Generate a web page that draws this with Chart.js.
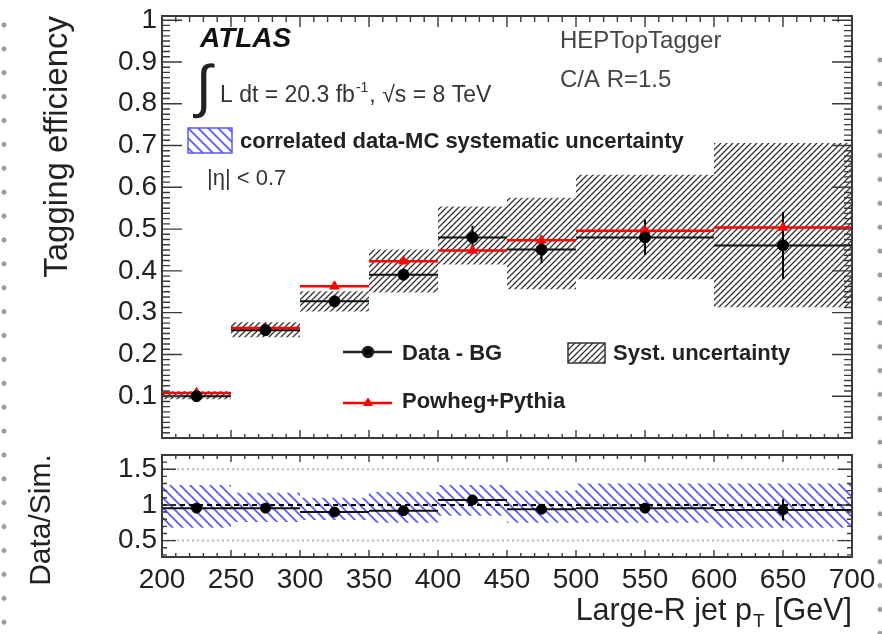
<!DOCTYPE html>
<html>
<head>
<meta charset="UTF-8">
<title>HEPTopTagger tagging efficiency</title>
<script src="https://cdn.jsdelivr.net/npm/chart.js@4.4.1/dist/chart.umd.min.js"></script>
<style>
  body { margin: 0; background: #fff; }
  #wrap { position: relative; width: 882px; height: 634px; overflow: hidden; }
  #top { position: absolute; left: 0; top: 0; }
  #bot { position: absolute; left: 0; top: 445px; }
  .dots { position: absolute; width: 10px; bottom: 0;
    background-image: radial-gradient(circle, #9c9c9c 2.2px, rgba(255,255,255,0) 2.9px);
    background-size: 10px 23.9px; }
</style>
</head>
<body>
<div id="wrap">
  <div class="dots" style="left:-1px; top:13px"></div>
  <div class="dots" style="left:875px; top:48px"></div>
  <canvas id="top" width="882" height="445"></canvas>
  <canvas id="bot" width="882" height="189"></canvas>
</div>

<script>
	// large-R jet pT bins [GeV]
	const binEdges = [200, 250, 300, 350, 400, 450, 500, 600, 700];

	// data - BG efficiency, stat. error, syst. band
	const dataEff  = [0.100, 0.258, 0.327, 0.391, 0.480, 0.451, 0.480, 0.461];
	const dataStat = [0.004, 0.006, 0.010, 0.014, 0.028, 0.033, 0.042, 0.080];
	const systLow  = [0.093, 0.241, 0.303, 0.348, 0.415, 0.356, 0.380, 0.313];
	const systHigh = [0.112, 0.277, 0.351, 0.451, 0.554, 0.575, 0.630, 0.706];

	// Powheg+Pythia
	const mcEff    = [0.108, 0.263, 0.363, 0.423, 0.449, 0.473, 0.496, 0.504];

	// Data/Sim. ratio and correlated data-MC syst.
	const ratio    = [0.955, 0.955, 0.900, 0.920, 1.070, 0.940, 0.955, 0.930];
	const ratioErr = [0.010, 0.015, 0.020, 0.030, 0.040, 0.050, 0.060, 0.150];
	const corrLow  = [0.68, 0.76, 0.79, 0.75, 0.85, 0.75, 0.75, 0.68];
	const corrHigh = [1.28, 1.17, 1.10, 1.18, 1.28, 1.20, 1.30, 1.30];

	const effTicks   = [0.1, 0.2, 0.3, 0.4, 0.5, 0.6, 0.7, 0.8, 0.9, 1];
	const ratioTicks = [0.5, 1, 1.5];
	const ratioGuides = [0.5, 1.5];
	const ptTicks    = [200, 250, 300, 350, 400, 450, 500, 550, 600, 650, 700];

	const FONT = "'Liberation Sans', Arial, Helvetica, sans-serif";
	const INK = '#1c1c1c';

	const centers = binEdges.slice(0, -1).map((e, i) => (e + binEdges[i + 1]) / 2);

	// one horizontal segment per bin, gaps between bins
	function binLines(vals) {
		const pts = [];
		vals.forEach((v, i) => {
			pts.push({x: binEdges[i], y: v}, {x: binEdges[i + 1], y: v}, {x: binEdges[i + 1], y: null});
		});
		return pts;
	}
	// stepped outline of a band (stepped: true keeps each y until the next edge)
	function stepEdge(vals) {
		return binEdges.map((e, i) => ({x: e, y: vals[Math.min(i, vals.length - 1)]}));
	}
	function errBars(vals, errs) {
		const pts = [];
		vals.forEach((v, i) => {
			pts.push({x: centers[i], y: v - errs[i]}, {x: centers[i], y: v + errs[i]}, {x: centers[i], y: null});
		});
		return pts;
	}
	function markers(vals) {
		return vals.map((v, i) => ({x: centers[i], y: v}));
	}
	function flat(v) {
		return [{x: binEdges[0], y: v}, {x: binEdges[binEdges.length - 1], y: v}];
	}

	// diagonal hatching, dir 1 = '/', dir -1 = '\'
	function hatch(color, step, width, dir) {
		const c = document.createElement('canvas');
		c.width = c.height = step;
		const g = c.getContext('2d');
		g.strokeStyle = color;
		g.lineWidth = width;
		g.beginPath();
		for (let k = -1; k <= 1; k++) {
			if (dir > 0) { g.moveTo(k * step - 1, step + 1); g.lineTo(k * step + step + 1, -1); }
			else { g.moveTo(k * step - 1, -1); g.lineTo(k * step + step + 1, step + 1); }
		}
		g.stroke();
		return g.createPattern(c, 'repeat');
	}
	const hatchBlack = hatch('#333', 6, 1.3, 1);
	const hatchBlue = hatch('#5a5aff', 10, 1.8, -1);

	// no extra room for the end labels, the frame is placed by layout padding
	function noLabelPadding(s) {
		s.paddingTop = 0; s.paddingBottom = 0; s.paddingLeft = 0; s.paddingRight = 0;
	}

	// frame with ROOT style inner ticks
	const framePlugin = {
		id: 'frame',
		afterDatasetsDraw(chart, args, o) {
			const {ctx, chartArea: a, scales: {x, y}} = chart;
			ctx.save();
			ctx.strokeStyle = '#3a3a3a';
			ctx.lineWidth = 1.4;
			ctx.beginPath();
			const nx = Math.round((x.max - x.min) / o.xStep);
			for (let k = 0; k <= nx; k++) {
				const v = x.min + k * o.xStep;
				const px = x.getPixelForValue(v);
				const major = k % o.xEvery === 0;
				ctx.moveTo(px, a.top); ctx.lineTo(px, a.top + o.topLen[major ? 1 : 0]);
				ctx.moveTo(px, a.bottom); ctx.lineTo(px, a.bottom - o.botLen[major ? 1 : 0]);
			}
			const k0 = Math.ceil(y.min / o.yStep - 1e-6), k1 = Math.floor(y.max / o.yStep + 1e-6);
			for (let k = k0; k <= k1; k++) {
				const py = y.getPixelForValue(k * o.yStep);
				const len = o.sideLen[k % o.yEvery === 0 ? 1 : 0];
				ctx.moveTo(a.left, py); ctx.lineTo(a.left + len, py);
				ctx.moveTo(a.right, py); ctx.lineTo(a.right - len, py);
			}
			ctx.stroke();
			ctx.lineWidth = 2;
			ctx.strokeRect(a.left, a.top, a.right - a.left, a.bottom - a.top);
			ctx.restore();
		}
	};

	function text(ctx, s, x, y, font, color, align) {
		ctx.font = font;
		ctx.fillStyle = color || INK;
		ctx.textAlign = align || 'left';
		ctx.textBaseline = 'alphabetic';
		ctx.fillText(s, x, y);
		return ctx.measureText(s).width;
	}

	// labels and legend inside the upper pad
	const labelPlugin = {
		id: 'labels',
		afterDraw(chart) {
			const {ctx, chartArea: a} = chart;
			const L = a.left, T = a.top;
			ctx.save();
			text(ctx, 'ATLAS', L + 38, T + 31, 'italic bold 28px ' + FONT, '#111');
			text(ctx, '\u222B', L + 34, T + 90, '58px ' + FONT, '#222');
			let w = text(ctx, 'L dt = 20.3 fb', L + 58, T + 86, '23px ' + FONT, '#333');
			let w2 = text(ctx, '-1', L + 58 + w + 1, T + 76, '14px ' + FONT, '#333');
			text(ctx, ', \u221As = 8 TeV', L + 58 + w + w2 + 2, T + 86, '23px ' + FONT, '#333');

			ctx.fillStyle = hatchBlue;
			ctx.fillRect(L + 26, T + 112, 44, 25);
			ctx.strokeStyle = '#5a5aff';
			ctx.lineWidth = 1.5;
			ctx.strokeRect(L + 26, T + 112, 44, 25);
			text(ctx, 'correlated data-MC systematic uncertainty', L + 78, T + 132, 'bold 22px ' + FONT, '#222');
			text(ctx, '|\u03B7| < 0.7', L + 45, T + 169, '22px ' + FONT, '#333');

			text(ctx, 'HEPTopTagger', L + 398, T + 32, '24px ' + FONT, '#444');
			text(ctx, 'C/A R=1.5', L + 398, T + 71, '24px ' + FONT, '#444');

			// legend
			ctx.lineWidth = 2.5;
			ctx.strokeStyle = '#222';
			ctx.beginPath(); ctx.moveTo(L + 181, T + 336); ctx.lineTo(L + 230, T + 336); ctx.stroke();
			ctx.fillStyle = '#000';
			Chart.helpers.drawPoint(ctx, {pointStyle: 'circle', radius: 5, borderWidth: 1, rotation: 0}, L + 206, T + 336);
			text(ctx, 'Data - BG', L + 240, T + 344, 'bold 22px ' + FONT, '#222');

			ctx.strokeStyle = '#f00';
			ctx.beginPath(); ctx.moveTo(L + 181, T + 387); ctx.lineTo(L + 230, T + 387); ctx.stroke();
			ctx.fillStyle = '#f00';
			ctx.lineWidth = 1;
			Chart.helpers.drawPoint(ctx, {pointStyle: 'triangle', radius: 5, borderWidth: 1, rotation: 0}, L + 206, T + 387);
			text(ctx, 'Powheg+Pythia', L + 240, T + 392, 'bold 22px ' + FONT, '#222');

			ctx.fillStyle = hatchBlack;
			ctx.fillRect(L + 406, T + 327, 37, 20);
			ctx.strokeStyle = '#333';
			ctx.lineWidth = 1.5;
			ctx.strokeRect(L + 406, T + 327, 37, 20);
			text(ctx, 'Syst. uncertainty', L + 451, T + 344, 'bold 22px ' + FONT, '#222');
			ctx.restore();
		}
	};

	// axis titles of the ratio pad
	const ratioTitles = {
		id: 'ratioTitles',
		afterDraw(chart) {
			const {ctx, chartArea: a} = chart;
			ctx.save();
			// Large-R jet p_T [GeV], right aligned under the axis
			const base = a.bottom + 63;
			ctx.font = '30.5px ' + FONT;
			const w3 = ctx.measureText(' [GeV]').width;
			ctx.font = '19px ' + FONT;
			const w2 = ctx.measureText('T').width;
			let x = a.right - w3;
			text(ctx, ' [GeV]', x, base, '30.5px ' + FONT, '#222');
			x -= w2 + 1;
			text(ctx, 'T', x, base + 7, '19px ' + FONT, '#222');
			text(ctx, 'Large-R jet p', x - 1, base, '30.5px ' + FONT, '#222', 'right');
			// Data/Sim. rotated on the left
			ctx.translate(42, a.top + 65);
			ctx.rotate(-Math.PI / 2);
			ctx.font = '30px ' + FONT;
			ctx.fillStyle = '#222';
			ctx.textAlign = 'center';
			ctx.textBaseline = 'middle';
			ctx.fillText('Data/Sim.', 0, 0);
			ctx.restore();
		}
	};

	new Chart(document.getElementById('top'), {
		type: 'line',
		data: {
			datasets: [
				{ data: markers(dataEff), showLine: false, pointStyle: 'circle', pointRadius: 5.5,
				  pointBackgroundColor: '#000', pointBorderColor: '#000', order: 1 },
				{ data: markers(mcEff), showLine: false, pointStyle: 'triangle', pointRadius: 5.5,
				  pointBackgroundColor: '#f00', pointBorderColor: '#f00', order: 2 },
				{ data: errBars(dataEff, dataStat), borderColor: '#000', borderWidth: 2, pointRadius: 0, order: 3 },
				{ data: binLines(dataEff), borderColor: '#111', borderWidth: 2, pointRadius: 0, order: 5 },
				{ data: binLines(mcEff), borderColor: '#f00', borderWidth: 2.5, pointRadius: 0, order: 4 },
				{ data: stepEdge(systHigh), stepped: true, borderColor: 'rgba(0,0,0,0)', pointRadius: 0, order: 9 },
				{ data: stepEdge(systLow), stepped: true, borderColor: 'rgba(0,0,0,0)', pointRadius: 0,
				  fill: '-1', backgroundColor: hatchBlack, order: 9 }
			]
		},
		options: {
			responsive: false,
			animation: false,
			events: [],
			layout: { padding: { top: 16, right: 30, bottom: 7, left: 0 } },
			plugins: {
				legend: { display: false },
				tooltip: { enabled: false },
				frame: { xStep: 10, xEvery: 5, topLen: [6, 11], botLen: [4, 8],
				         yStep: 0.0125, yEvery: 8, sideLen: [8, 20] }
			},
			scales: {
				x: { type: 'linear', min: 200, max: 700, display: false },
				y: {
					min: 0, max: 1.01,
					afterFit: s => { s.width = 162; noLabelPadding(s); },
					afterBuildTicks: s => { s.ticks = effTicks.map(v => ({ value: v })); },
					grid: { display: false, drawTicks: false },
					border: { display: false },
					ticks: { autoSkip: false, padding: 5, color: '#222', font: { size: 28, family: FONT },
					         callback: v => v === 1 ? '1' : v.toFixed(1) },
					title: { display: true, text: 'Tagging efficiency', align: 'end', color: '#222',
					         font: { size: 33, family: FONT }, padding: { top: 38 } }
				}
			}
		},
		plugins: [framePlugin, labelPlugin]
	});

	const guideSets = ratioGuides.map(v => ({
		data: flat(v), borderColor: '#b8b8b8', borderWidth: 2, borderDash: [2, 3], pointRadius: 0, order: 7
	}));

	new Chart(document.getElementById('bot'), {
		type: 'line',
		data: {
			datasets: [
				{ data: markers(ratio), showLine: false, pointStyle: 'circle', pointRadius: 5,
				  pointBackgroundColor: '#000', pointBorderColor: '#000', order: 1 },
				{ data: errBars(ratio, ratioErr), borderColor: '#000', borderWidth: 2, pointRadius: 0, order: 2 },
				{ data: flat(1), borderColor: '#000', borderWidth: 2, borderDash: [5, 4], pointRadius: 0, order: 3 },
				{ data: binLines(ratio), borderColor: '#111', borderWidth: 2, pointRadius: 0, order: 4 },
				...guideSets,
				{ data: stepEdge(corrHigh), stepped: true, borderColor: 'rgba(0,0,0,0)', pointRadius: 0, order: 9 },
				{ data: stepEdge(corrLow), stepped: true, borderColor: 'rgba(0,0,0,0)', pointRadius: 0,
				  fill: '-1', backgroundColor: hatchBlue, order: 9 }
			]
		},
		options: {
			responsive: false,
			animation: false,
			events: [],
			layout: { padding: { top: 10, right: 30, bottom: 0, left: 0 } },
			plugins: {
				legend: { display: false },
				tooltip: { enabled: false },
				frame: { xStep: 10, xEvery: 5, topLen: [4, 7], botLen: [4, 7],
				         yStep: 0.1, yEvery: 5, sideLen: [5, 14] }
			},
			scales: {
				x: {
					type: 'linear', min: 200, max: 700,
					afterFit: s => { s.height = 77; noLabelPadding(s); },
					afterBuildTicks: s => { s.ticks = ptTicks.map(v => ({ value: v })); },
					grid: { display: false, drawTicks: false },
					border: { display: false },
					ticks: { autoSkip: false, maxRotation: 0, padding: 6, color: '#222', font: { size: 28, family: FONT } }
				},
				y: {
					min: 0.27, max: 1.7,
					afterFit: s => { s.width = 162; noLabelPadding(s); },
					afterBuildTicks: s => { s.ticks = ratioTicks.map(v => ({ value: v })); },
					grid: { display: false, drawTicks: false },
					border: { display: false },
					ticks: { autoSkip: false, padding: 5, color: '#222', font: { size: 28, family: FONT },
					         callback: v => v === 1 ? '1' : String(v) }
				}
			}
		},
		plugins: [framePlugin, ratioTitles]
	});
</script>
</body>
</html>
